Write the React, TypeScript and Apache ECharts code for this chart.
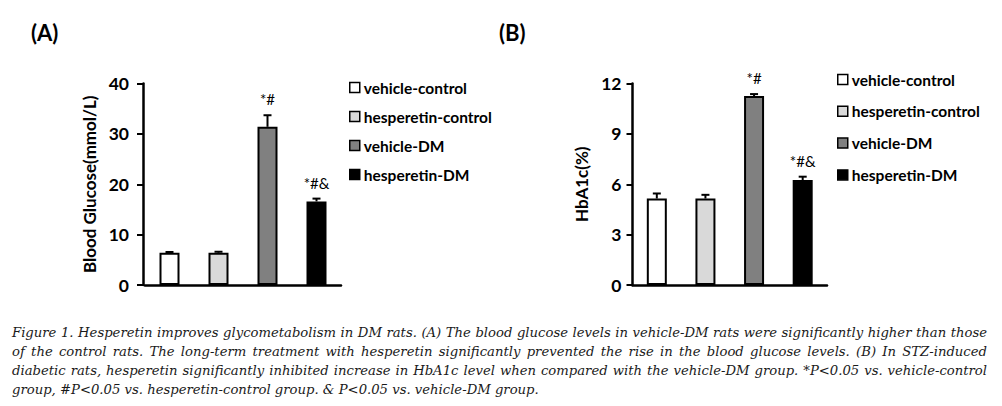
import React, { useEffect, useRef } from "react";
import * as echarts from "echarts";

const categories = ["vehicle-control", "hesperetin-control", "vehicle-DM", "hesperetin-DM"];
const barColors = ["#ffffff", "#d9d9d9", "#808080", "#000000"];

const glucoseValues = [6.4, 6.4, 31.4, 16.6];
const glucoseErrors = [0.15, 0.2, 2.3, 0.55];
const glucoseMarks = ["", "", "*#", "*#&"];

const hba1cValues = [5.15, 5.15, 11.25, 6.25];
const hba1cErrors = [0.3, 0.22, 0.12, 0.2];
const hba1cMarks = ["", "", "*#", "*#&"];

const glucoseTicks = { min: 0, max: 40, interval: 10 };
const hba1cTicks = { min: 0, max: 12, interval: 3 };

const panelLabels = ["(A)", "(B)"];
const axisNames = ["Blood Glucose(mmol/L)", "HbA1c(%)"];

const captionLines = [
  "Figure 1. Hesperetin improves glycometabolism in DM rats. (A) The blood glucose levels in vehicle-DM rats were significantly higher than those",
  "of the control rats. The long-term treatment with hesperetin significantly prevented the rise in the blood glucose levels. (B) In STZ-induced",
  "diabetic rats, hesperetin significantly inhibited increase in HbA1c level when compared with the vehicle-DM group. *P<0.05 vs. vehicle-control",
  "group, #P<0.05 vs. hesperetin-control group. & P<0.05 vs. vehicle-DM group.",
];

const SANS = "Lato, 'Open Sans', sans-serif";
const SERIF_NAME = "DejaVu Serif";
const SERIF = "'DejaVu Serif', 'Liberation Serif', serif";

export default function App() {
  const ref = useRef<HTMLDivElement>(null);

  useEffect(() => {
    if (!ref.current) return;
    const chart = echarts.init(ref.current, null, { renderer: "svg" });

    const ctx = document.createElement("canvas").getContext("2d")!;
    const CAP_LEFT = 12;
    const CAP_RIGHT = 987;
    const measureAt = (t: string, size: number) => {
      ctx.font = `italic ${size}px '${SERIF_NAME}'`;
      return ctx.measureText(t).width;
    };
    const longest = Math.max(...captionLines.map((l) => measureAt(l, 10)));
    const capFontSize = Math.min(14, (10 * (CAP_RIGHT - CAP_LEFT - 6)) / longest);
    const measure = (t: string) => measureAt(t, capFontSize);
    const capY = [332, 351, 370, 389];
    const captionEls: any[] = [];
    captionLines.forEach((line, li) => {
      const words = line.split(" ");
      const widths = words.map(measure);
      const total = widths.reduce((a, b) => a + b, 0);
      const justify = li < captionLines.length - 1;
      const gap = justify ? (CAP_RIGHT - CAP_LEFT - total) / (words.length - 1) : measure(" ");
      let x = CAP_LEFT;
      words.forEach((w, i) => {
        captionEls.push({
          type: "text",
          x,
          y: capY[li],
          style: {
            text: w,
            fontFamily: SERIF,
            fontStyle: "italic",
            fontSize: capFontSize,
            fill: "#1a1a1a",
            verticalAlign: "middle",
            align: "left",
          },
        });
        x += widths[i] + gap;
      });
    });

    const makeBars = (gridIdx: number, values: number[]) =>
      categories.map((name, ci) => ({
        type: "bar",
        name,
        xAxisIndex: gridIdx,
        yAxisIndex: gridIdx,
        stack: "s" + gridIdx,
        barWidth: 20,
        itemStyle: { color: barColors[ci], borderColor: "#000", borderWidth: 2 },
        data: values.map((v, i) => (i === ci ? v : "-")),
        z: 2,
      }));

    const makeErr = (gridIdx: number, values: number[], errs: number[], marks: string[]) => ({
      type: "custom",
      name: "err" + gridIdx,
      xAxisIndex: gridIdx,
      yAxisIndex: gridIdx,
      z: 5,
      encode: { x: 0, y: 1 },
      data: values.map((v, i) => [i, v, errs[i]]),
      renderItem: (params: any, api: any) => {
        const i = api.value(0);
        const v = api.value(1);
        const e = api.value(2);
        const bottom = api.coord([i, v]);
        const top = api.coord([i, v + e]);
        const half = 4;
        const lineStyle = { stroke: "#000", lineWidth: 2 };
        const children: any[] = [
          { type: "line", shape: { x1: top[0], y1: bottom[1], x2: top[0], y2: top[1] }, style: lineStyle },
          { type: "line", shape: { x1: top[0] - half, y1: top[1], x2: top[0] + half, y2: top[1] }, style: lineStyle },
        ];
        const mark = marks[params.dataIndex];
        if (mark) {
          children.push({
            type: "text",
            x: top[0],
            y: top[1] - 16,
            style: {
              text: mark,
              fontFamily: SANS,
              fontSize: 15,
              fill: "#000",
              align: "center",
              verticalAlign: "middle",
            },
          });
        }
        return { type: "group", children };
      },
    });

    const yAxisCommon = (ticks: any, name: string, gap: number, margin: number, offset: number) => ({
      type: "value",
      min: ticks.min,
      max: ticks.max,
      interval: ticks.interval,
      offset,
      name,
      nameLocation: "middle",
      nameGap: gap,
      nameRotate: 90,
      nameTextStyle: { fontFamily: SANS, fontWeight: "bold", fontSize: 17, color: "#000" },
      axisLine: { show: true, lineStyle: { color: "#000", width: 2.5 } },
      axisTick: { show: true, inside: false, length: 6, lineStyle: { color: "#000", width: 2 } },
      axisLabel: { fontFamily: SANS, fontWeight: "bold", fontSize: 17.5, color: "#000", margin },
      splitLine: { show: false },
    });

    const xAxisCommon = (gridIdx: number) => ({
      type: "category",
      gridIndex: gridIdx,
      data: categories,
      axisLine: { show: true, lineStyle: { color: "#000", width: 2.5 } },
      axisTick: { show: false },
      axisLabel: { show: false },
      splitLine: { show: false },
    });

    const legendCommon = (left: number, top: number, itemGap: number) => ({
      orient: "vertical",
      left,
      top,
      itemGap,
      itemWidth: 10,
      itemHeight: 10,
      icon: "rect",
      selectedMode: false,
      data: categories,
      itemStyle: { borderColor: "#000", borderWidth: 1.5 },
      textStyle: { fontFamily: SANS, fontWeight: "bold", fontSize: 15.5, color: "#000", lineHeight: 15, padding: [0, 0, 0, -1] },
    });

    chart.setOption({
      animation: false,
      backgroundColor: "#ffffff",
      grid: [
        { left: 145, top: 83.5, width: 196, height: 201.5 },
        { left: 632.5, top: 83.5, width: 194.5, height: 201.5 },
      ],
      xAxis: [xAxisCommon(0), xAxisCommon(1)],
      yAxis: [
        { ...yAxisCommon(glucoseTicks, axisNames[0], 45, 14, 2), gridIndex: 0 },
        { ...yAxisCommon(hba1cTicks, axisNames[1], 43, 11, 0), gridIndex: 1 },
      ],
      legend: [legendCommon(344, 74.5, 13), legendCommon(832, 66.5, 15.8)],
      series: [
        ...makeBars(0, glucoseValues),
        ...makeBars(1, hba1cValues),
        makeErr(0, glucoseValues, glucoseErrors, glucoseMarks),
        makeErr(1, hba1cValues, hba1cErrors, hba1cMarks),
      ],
      graphic: [
        {
          type: "text",
          x: 31,
          y: 32,
          style: { text: panelLabels[0], fontFamily: SANS, fontWeight: "bold", fontSize: 22, fill: "#000", verticalAlign: "middle" },
        },
        {
          type: "text",
          x: 499,
          y: 32,
          style: { text: panelLabels[1], fontFamily: SANS, fontWeight: "bold", fontSize: 22, fill: "#000", verticalAlign: "middle" },
        },
        ...captionEls,
      ],
    });

    return () => chart.dispose();
  }, []);

  return (
    <div
      ref={ref}
      style={{ position: "absolute", left: 0, top: 0, width: 1002, height: 406, background: "#fff" }}
    />
  );
}
